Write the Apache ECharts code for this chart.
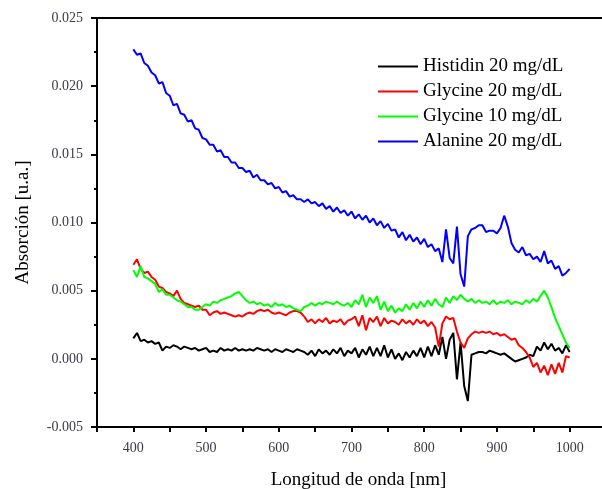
<!DOCTYPE html>
<html>
<head>
<meta charset="utf-8">
<script src="https://cdn.jsdelivr.net/npm/echarts@6/dist/echarts.min.js"></script>
<style>html,body{margin:0;padding:0;background:#fff;}#c{width:602px;height:489px;}</style>
</head>
<body>
<div id="c"></div>
<script>
// Wavelength sample positions (nm), every 5 nm from 400 to 1000
const wavelengths = Array.from({length: 121}, (_, i) => 400 + 5 * i);

const seriesNames = ['Histidin 20 mg/dL', 'Glycine 20 mg/dL', 'Glycine 10 mg/dL', 'Alanine 20 mg/dL'];
const seriesColors = ['#000000', '#ff0000', '#00ff00', '#0000ff'];

const histidin20 = [
0.0015,0.0019,0.0013,0.0014,0.0012,0.0013,0.0011,0.0012,0.0006,0.0009,
0.0008,0.0010,0.0009,0.0007,0.0009,0.0008,0.0007,0.0008,0.0006,0.0007,
0.0008,0.0005,0.0006,0.0005,0.0008,0.0006,0.0007,0.0006,0.0008,0.0006,
0.0007,0.0006,0.0007,0.0006,0.0008,0.0007,0.0006,0.0007,0.0005,0.0007,
0.0006,0.0005,0.0007,0.0006,0.0005,0.0007,0.0006,0.0005,0.0003,0.0006,
0.0002,0.0007,0.0004,0.0006,0.0003,0.0007,0.0004,0.0008,0.0002,0.0006,
0.0004,0.0008,0.0001,0.0007,0.0003,0.0009,0.0002,0.0008,0.0002,0.0010,
0.0001,0.0007,0.0000,0.0004,-0.0001,0.0005,0.0001,0.0006,0.0002,0.0008,
0.0001,0.0009,0.0002,0.0010,0.0003,0.0016,0.0000,0.0014,0.0019,-0.0015,
0.0012,-0.0020,-0.0031,0.0003,0.0004,0.0005,0.0005,0.0004,0.0006,0.0005,
0.0004,0.0003,0.0004,0.0002,0.0000,-0.0002,-0.0001,0.0000,0.0001,0.0003,
0.0002,0.0009,0.0006,0.0012,0.0007,0.0011,0.0006,0.0008,0.0004,0.0010,
0.0005];

const glycine20 = [
0.0069,0.0073,0.0066,0.0063,0.0064,0.0060,0.0058,0.0053,0.0052,0.0049,
0.0048,0.0046,0.0050,0.0044,0.0041,0.0040,0.0039,0.0038,0.0039,0.0036,
0.0036,0.0032,0.0034,0.0035,0.0033,0.0034,0.0033,0.0032,0.0031,0.0032,
0.0031,0.0033,0.0034,0.0033,0.0035,0.0036,0.0035,0.0036,0.0034,0.0033,
0.0034,0.0033,0.0032,0.0034,0.0035,0.0035,0.0034,0.0031,0.0027,0.0029,
0.0026,0.0029,0.0027,0.0030,0.0026,0.0028,0.0027,0.0029,0.0025,0.0028,
0.0029,0.0031,0.0024,0.0032,0.0021,0.0030,0.0027,0.0031,0.0024,0.0030,
0.0026,0.0028,0.0027,0.0025,0.0029,0.0026,0.0028,0.0025,0.0029,0.0026,
0.0028,0.0024,0.0027,0.0023,0.0009,0.0026,0.0031,0.0029,0.0030,0.0020,
0.0012,0.0008,0.0015,0.0018,0.0020,0.0019,0.0020,0.0019,0.0020,0.0018,
0.0019,0.0017,0.0018,0.0016,0.0014,0.0015,0.0010,0.0008,0.0005,0.0001,
-0.0006,-0.0003,-0.0010,-0.0005,-0.0012,-0.0004,-0.0011,-0.0003,-0.0010,0.0002,
0.0001];

const glycine10 = [
0.0065,0.0060,0.0068,0.0060,0.0059,0.0057,0.0055,0.0049,0.0051,0.0047,
0.0047,0.0045,0.0043,0.0042,0.0040,0.0038,0.0038,0.0036,0.0036,0.0038,
0.0040,0.0039,0.0042,0.0041,0.0043,0.0044,0.0045,0.0046,0.0048,0.0049,
0.0046,0.0043,0.0041,0.0042,0.0040,0.0041,0.0039,0.0040,0.0038,0.0041,
0.0039,0.0040,0.0038,0.0039,0.0037,0.0036,0.0035,0.0038,0.0039,0.0041,
0.0039,0.0041,0.0040,0.0042,0.0041,0.0040,0.0042,0.0040,0.0039,0.0041,
0.0038,0.0043,0.0040,0.0047,0.0038,0.0045,0.0041,0.0046,0.0036,0.0042,
0.0035,0.0039,0.0034,0.0037,0.0035,0.0040,0.0036,0.0041,0.0037,0.0042,
0.0038,0.0043,0.0039,0.0044,0.0040,0.0038,0.0045,0.0041,0.0046,0.0043,
0.0047,0.0044,0.0042,0.0044,0.0041,0.0043,0.0041,0.0042,0.0040,0.0043,
0.0040,0.0042,0.0041,0.0043,0.0040,0.0042,0.0041,0.0040,0.0043,0.0041,
0.0044,0.0042,0.0046,0.0050,0.0045,0.0038,0.0030,0.0024,0.0018,0.0012,
0.0008];

const alanine20 = [
0.0227,0.0223,0.0224,0.0217,0.0215,0.0210,0.0208,0.0202,0.0203,0.0195,
0.0193,0.0186,0.0187,0.0180,0.0179,0.0174,0.0175,0.0169,0.0168,0.0162,
0.0161,0.0157,0.0157,0.0152,0.0153,0.0148,0.0148,0.0144,0.0144,0.0140,
0.0140,0.0137,0.0138,0.0133,0.0135,0.0131,0.0131,0.0128,0.0129,0.0125,
0.0126,0.0122,0.0123,0.0119,0.0120,0.0117,0.0117,0.0115,0.0117,0.0114,
0.0115,0.0112,0.0114,0.0110,0.0112,0.0108,0.0111,0.0107,0.0109,0.0105,
0.0108,0.0103,0.0106,0.0102,0.0105,0.0100,0.0103,0.0098,0.0101,0.0096,
0.0099,0.0094,0.0095,0.0089,0.0093,0.0087,0.0091,0.0086,0.0089,0.0084,
0.0088,0.0082,0.0084,0.0079,0.0081,0.0071,0.0095,0.0074,0.0070,0.0097,
0.0062,0.0053,0.0090,0.0095,0.0096,0.0098,0.0098,0.0093,0.0094,0.0094,
0.0092,0.0096,0.0105,0.0097,0.0085,0.0080,0.0078,0.0082,0.0076,0.0077,
0.0073,0.0075,0.0071,0.0079,0.0070,0.0072,0.0066,0.0068,0.0061,0.0063,
0.0066];

const xLabelValues = [400, 500, 600, 700, 800, 900, 1000];

const allValues = [histidin20, glycine20, glycine10, alanine20];

const chart = echarts.init(document.getElementById('c'), null, {renderer: 'canvas'});
const font = 'Liberation Serif, Times New Roman, serif';

const option = {
  animation: false,
  backgroundColor: '#fff',
  grid: {left: 97, top: 18, width: 509, height: 409, show: true, borderColor: '#000', borderWidth: 2,
         containLabel: false, outerBoundsMode: 'none'},
  legend: {
    orient: 'vertical', left: 373, top: 52, itemGap: 6,
    itemWidth: 40, itemHeight: 2, icon: 'rect',
    textStyle: {fontFamily: font, fontSize: 19, color: '#000', lineHeight: 19},
    data: seriesNames
  },
  xAxis: {
    type: 'value', min: 350, max: 1050, interval: 50, position: 'bottom',
    name: 'Longitud de onda [nm]', nameLocation: 'middle', nameGap: 44,
    nameTextStyle: {fontFamily: font, fontSize: 19, color: '#000', padding: [0, 0, 0, 14]},
    axisLine: {show: true, onZero: false, lineStyle: {color: '#000', width: 2}},
    axisTick: {show: true, inside: false, length: 5, lineStyle: {color: '#000', width: 2}},
    axisLabel: {show: true, margin: 14, customValues: xLabelValues, fontFamily: font, fontSize: 14, color: '#3a3a4a', formatter: v => String(v)},
    splitLine: {show: false}
  },
  yAxis: {
    type: 'value', min: -0.005, max: 0.025, interval: 0.005,
    name: 'Absorción [u.a.]', nameLocation: 'middle', nameGap: 64, nameRotate: 90,
    nameTextStyle: {fontFamily: font, fontSize: 19, color: '#000'},
    axisLine: {show: true, onZero: false, lineStyle: {color: '#000', width: 2}},
    axisTick: {show: true, length: 6, lineStyle: {color: '#000', width: 2}},
    minorTick: {show: true, splitNumber: 2, length: 3, lineStyle: {color: '#000', width: 2}},
    axisLabel: {margin: 14, fontFamily: font, fontSize: 14, color: '#3a3a4a', formatter: v => v.toFixed(3)},
    splitLine: {show: false}
  },
  series: seriesNames.map((name, k) => ({
    name: name, type: 'line', showSymbol: false, symbol: 'none',
    lineStyle: {color: seriesColors[k], width: 2}, itemStyle: {color: seriesColors[k]},
    data: wavelengths.map((w, i) => [w, allValues[k][i]])
  }))
};
chart.setOption(option);
</script>
</body>
</html>
